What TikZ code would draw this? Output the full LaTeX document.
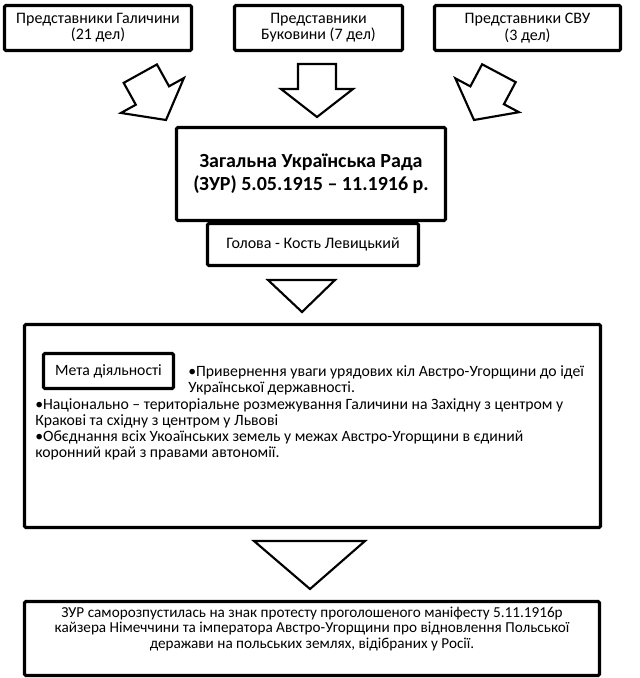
\documentclass[tikz,border=0pt]{standalone}
\usepackage{fontspec}
\setmainfont{Carlito}
\begin{document}
\begin{tikzpicture}[x=0.75pt,y=-0.75pt,
  box/.style={draw=black, line width=2.3pt, rounded corners=1pt, fill=white, inner sep=0pt, align=center, font=\fontsize{12pt}{12.2pt}\selectfont},
  blockarrow/.style={draw=black, line width=1.6pt, fill=white, line join=miter},
  txt/.style={inner sep=0pt, font=\fontsize{11.8pt}{12pt}\selectfont},
  barrow/.pic={\draw[blockarrow] (0,0) -- (-36,-28) -- (-19,-28) -- (-19,-53) -- (19,-53) -- (19,-28) -- (36,-28) -- cycle;}
]
\useasboundingbox (0,0) rectangle (639,678);
\fill[white] (0,0) rectangle (639,678);

% top boxes
\node[box, minimum width=187*0.75pt, minimum height=45*0.75pt] (gal) at (98,28) {Представники Галичини\\(21 дел)};
\node[box, minimum width=168*0.75pt, minimum height=45*0.75pt] (buk) at (318.5,28) {Представники\\Буковини (7 дел)};
\node[box, minimum width=186*0.75pt, minimum height=45*0.75pt] (svu) at (527.5,28) {Представники СВУ\\(3 дел)};

% block arrows
\path (166,120) pic[rotate=29] {barrow};
\path (317,117) pic {barrow};
\path (474,120) pic[rotate=-28] {barrow};

% council
\node[box, minimum width=211*0.75pt, minimum height=42*0.75pt] (head) at (313,244.5) {Голова - Кость Левицький};
\node[box, minimum width=269*0.75pt, minimum height=93*0.75pt, font=\fontsize{15pt}{17.5pt}\selectfont\bfseries] (zur) at (311,174) {Загальна Українська Рада\\(ЗУР) 5.05.1915 – 11.1916 р.};

\draw[blockarrow] (268,280) -- (335,280) -- (302,312) -- cycle;

% goals
\node[box, minimum width=576*0.75pt, minimum height=203*0.75pt] (goals) at (312.5,426) {};
\node[box, minimum width=130*0.75pt, minimum height=35*0.75pt, font=\fontsize{11.8pt}{12pt}\selectfont] (meta) at (108.5,371) {Мета діяльності};
\node[txt, anchor=north west, align=left] (goal1) at (188,365) {•Привернення уваги урядових кіл Австро-Угорщини до ідеї\\Української державності.};
\node[txt, anchor=north west, align=left] (goal2) at (35,398) {•Національно – територіальне розмежування Галичини на Західну з центром у\\Кракові та східну з центром у Львові\\•Обєднання всіх Укоаїнських земель у межах Австро-Угорщини в єдиний\\коронний край з правами автономії.};

\draw[blockarrow] (254,541) -- (365,541) -- (310,589) -- cycle;

% end
\node[box, minimum width=575*0.75pt, minimum height=74*0.75pt] (fin) at (312,638.5) {};
\node[txt, align=center, font=\fontsize{11.4pt}{11.7pt}\selectfont] (fintext) at (312,629) {ЗУР саморозпустилась на знак протесту проголошеного маніфесту 5.11.1916р\\кайзера Німеччини та імператора Австро-Угорщини про відновлення Польської\\деражави на польських землях, відібраних у Росії.};
\end{tikzpicture}
\end{document}
